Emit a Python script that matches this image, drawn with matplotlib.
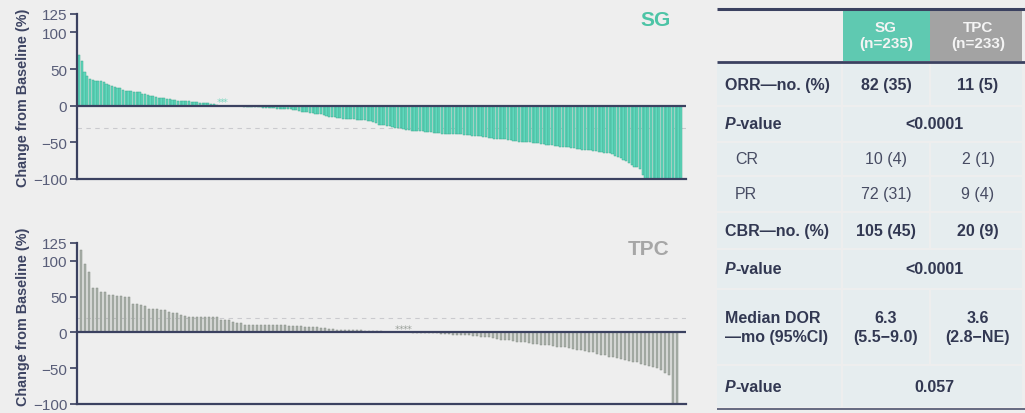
import matplotlib
matplotlib.use("Agg")
import matplotlib.pyplot as plt
from matplotlib.patches import Rectangle
import numpy as np

plt.rcParams['font.family'] = ['Liberation Sans', 'DejaVu Sans']

# ---- waterfall data: best % change from baseline in target lesions, sorted ----
sg_positive = [69, 61, 46, 40, 37, 35, 34, 34, 33, 32, 29, 28, 27, 25, 24,
               24, 21, 20, 20, 20, 19, 19, 19, 16, 16, 15, 13, 13, 12, 11,
               10, 10, 9, 9, 8, 8, 7, 6, 6, 6, 6, 5, 5, 5, 4, 4, 3, 3, 2, 2, 1]
sg_zero = [0, 0, 0]
sg_negative = [-1, -1, -1, -1, -1, -1, -2, -2, -2, -2,
               -2, -2, -2, -3, -3, -3, -3, -3, -4, -4,
               -4, -4, -5, -5, -6, -6, -7, -8, -8, -9,
               -10, -10, -11, -12, -12, -13, -14, -15, -16, -16,
               -17, -17, -18, -18, -18, -18, -18, -19, -19, -20,
               -20, -21, -21, -22, -24, -26, -27, -27, -28, -28,
               -29, -30, -30, -31, -32, -33, -33, -34, -34, -35,
               -35, -35, -36, -36, -36, -37, -37, -37, -38, -38,
               -38, -38, -39, -39, -39, -39, -40, -40, -40, -41,
               -41, -42, -42, -43, -43, -44, -44, -45, -45, -46,
               -46, -46, -47, -47, -48, -48, -49, -49, -50, -50,
               -50, -51, -51, -51, -52, -52, -53, -54, -54, -55,
               -55, -56, -56, -57, -57, -58, -58, -59, -59, -60,
               -60, -61, -61, -62, -62, -63, -63, -64, -64, -65,
               -66, -68, -70, -72, -74, -76, -78, -81, -83, -84,
               -86, -95,
               -100, -100, -100, -100, -100, -100, -100,
               -100, -100, -100, -100, -100, -100, -100]

tpc_positive = [115, 95, 85, 62, 62, 57, 56, 53, 52, 51,
                51, 50, 49, 40, 40, 39, 37, 33, 33, 33,
                32, 32, 29, 27, 27, 24, 23, 22, 21, 21,
                21, 21, 21, 21, 21, 17, 17, 17, 14, 13,
                13, 11, 11, 11, 11, 11, 10, 10, 10, 10,
                10, 10, 9, 9, 9, 9, 8, 8, 8, 8,
                6, 6, 5, 5, 4, 4, 4, 4, 3, 3,
                3, 2, 2, 2, 2, 2, 1, 1, 1]
tpc_zero = [0, 0, 0, 0]
tpc_negative = [-1, -1, -1, -1, -1, -1, -1, -2, -2, -2,
                -3, -3, -3, -4, -4, -5, -5, -6, -6, -7,
                -8, -9, -10, -11, -11, -12, -13, -14, -14, -15,
                -16, -16, -17, -18, -18, -19, -20, -21, -21, -22,
                -23, -24, -25, -26, -27, -28, -30, -31, -32, -34,
                -35, -36, -37, -38, -40, -41, -42, -44, -45, -47,
                -48, -50, -53, -56, -60,
                -100, -100]

sg_values = sg_positive + sg_zero + sg_negative
tpc_values = tpc_positive + tpc_zero + tpc_negative

yticks = [125, 100, 50, 0, -50, -100]
ytick_labels = ["125", "100", "50", "0", "\u221250", "\u2212100"]
ylabel = "Change from Baseline (%)"

# ---- response summary table ----
header_sg = "SG\n(n=235)"
header_tpc = "TPC\n(n=233)"
row_labels = ["ORR\u2014no. (%)", "P-value", "CR", "PR", "CBR\u2014no. (%)",
              "P-value", "Median DOR\n\u2014mo (95%CI)", "P-value"]
sg_col = ["82 (35)", None, "10 (4)", "72 (31)", "105 (45)", None,
          "6.3\n(5.5\u22129.0)", None]
tpc_col = ["11 (5)", None, "2 (1)", "9 (4)", "20 (9)", None,
           "3.6\n(2.8\u2212NE)", None]
p_col = [None, "<0.0001", None, None, None, "<0.0001", None, "0.057"]
row_bold = [True, True, False, False, True, True, True, True]

# ---- styling ----
BG = "#eeeeee"
NAVY = "#3b4160"
TICK_C = "#585d78"
TEAL = "#60d8bd"
TEAL_EDGE = "#3fa98f"
TEAL_TXT = "#4cc4a6"
GRAY = "#aab1aa"
GRAY_EDGE = "#868d86"
GRAY_TXT = "#a6a6a6"
CELL = "#e6edef"

W, H = 1025, 414
fig = plt.figure(figsize=(W / 100, H / 100), dpi=100, facecolor=BG)


def waterfall(rect, values, face, edge, width, xlim, ref_line, n_mark_start,
              n_mark, mark_color, title, title_color, title_xy, label_y):
    ax = fig.add_axes(rect)
    ax.set_facecolor(BG)
    x = np.arange(len(values))
    ax.bar(x, values, width=width, color=face, edgecolor=edge, linewidth=0.35,
           zorder=2)
    ax.axhline(ref_line, color="#cacace", lw=0.8, ls=(0, (4, 4)), zorder=1)
    ax.axhline(0, color=NAVY, lw=1.6, zorder=3)
    mx = np.arange(n_mark_start, n_mark_start + n_mark)
    ax.scatter(mx, np.full(n_mark, 7.5), marker="$*$", s=10, lw=0,
               color=mark_color, zorder=3)
    ax.set_xlim(*xlim)
    ax.set_ylim(-100, 125)
    ax.set_yticks(yticks)
    ax.set_yticklabels(ytick_labels)
    ax.set_xticks([])
    for s in ("top", "right"):
        ax.spines[s].set_visible(False)
    for s in ("left", "bottom"):
        ax.spines[s].set_color(NAVY)
        ax.spines[s].set_linewidth(1.6)
    ax.tick_params(axis="y", colors=NAVY, labelcolor=TICK_C, labelsize=11,
                   length=5, width=1.2, pad=2)
    ax.set_ylabel(ylabel, fontsize=10.4, fontweight="bold", color="#3d4462")
    ax.yaxis.set_label_coords(-0.077, label_y)
    fig.text(title_xy[0] / W, 1 - title_xy[1] / H, title, color=title_color,
             fontsize=15, fontweight="bold", ha="right", va="center")
    return ax


waterfall([77 / W, 1 - 180 / H, 609 / W, 165 / H], sg_values, TEAL, TEAL_EDGE,
          0.82, (-0.73, 220.7), -30, len(sg_positive), len(sg_zero), "#7fd8c2",
          "SG", TEAL_TXT, (671, 21), 0.5)
waterfall([77 / W, 1 - 405 / H, 609 / W, 161 / H], tpc_values, GRAY,
          GRAY_EDGE, 0.62, (-1.0, 151.25), 20, len(tpc_positive),
          len(tpc_zero), "#9aa09a", "TPC", GRAY_TXT, (670, 250), 0.545)

# ---- table, laid out in figure pixel coordinates ----
tax = fig.add_axes([0, 0, 1, 1])
tax.set_xlim(0, W)
tax.set_ylim(H, 0)
tax.axis("off")

x_left, x_sg0, x_sg1, x_tpc1, x_right = 717, 843, 930, 1022, 1025
c_sg, c_tpc, c_p = 886, 978, 934
row_edges = [(64, 107), (107, 143), (143, 177), (177, 213), (213, 250),
             (250, 290), (290, 366), (366, 409)]
FS = 11.5

# header cells
tax.add_patch(Rectangle((x_sg0, 10), x_sg1 - x_sg0, 52, color="#5fc9b1", lw=0))
tax.add_patch(Rectangle((x_sg1, 10), x_tpc1 - x_sg1, 52, color="#a3a3a3", lw=0))
tax.text(c_sg, 36, header_sg, ha="center", va="center", color="#f4f4f4",
         fontsize=11, fontweight="bold", linespacing=1.15)
tax.text(c_tpc, 36, header_tpc, ha="center", va="center", color="#f4f4f4",
         fontsize=11, fontweight="bold", linespacing=1.15)

gap = 1.0
for i, (y0, y1) in enumerate(row_edges):
    # background cells
    tax.add_patch(Rectangle((x_left, y0 + gap), x_sg0 - x_left - 2 * gap,
                            y1 - y0 - 2 * gap, color=CELL, lw=0))
    if p_col[i] is None:
        tax.add_patch(Rectangle((x_sg0, y0 + gap), x_sg1 - x_sg0 - gap,
                                y1 - y0 - 2 * gap, color=CELL, lw=0))
        tax.add_patch(Rectangle((x_sg1 + gap, y0 + gap), x_tpc1 - x_sg1 - gap,
                                y1 - y0 - 2 * gap, color=CELL, lw=0))
    else:
        tax.add_patch(Rectangle((x_sg0, y0 + gap), x_tpc1 - x_sg0,
                                y1 - y0 - 2 * gap, color=CELL, lw=0))

    yc = (y0 + y1) / 2
    weight = "bold" if row_bold[i] else "normal"
    tcol = "#323852" if row_bold[i] else "#474c63"
    label = row_labels[i]
    if label.startswith("P-"):
        t = tax.text(725, yc, "P", ha="left", va="center", fontsize=FS,
                     fontweight="bold", fontstyle="italic", color=tcol)
        tax.annotate(label[1:], xy=(1, 0), xycoords=t, ha="left",
                     va="bottom", fontsize=FS, fontweight="bold", color=tcol)
    else:
        lx = 725 if row_bold[i] else 735
        tax.text(lx, yc, label, ha="left", va="center", fontsize=FS,
                 fontweight=weight, color=tcol, linespacing=1.3)
    if sg_col[i] is not None:
        tax.text(c_sg, yc, sg_col[i], ha="center", va="center", fontsize=FS,
                 fontweight=weight, color=tcol, linespacing=1.3)
        tax.text(c_tpc, yc, tpc_col[i], ha="center", va="center", fontsize=FS,
                 fontweight=weight, color=tcol, linespacing=1.3)
    if p_col[i] is not None:
        tax.text(c_p, yc, p_col[i], ha="center", va="center", fontsize=FS,
                 fontweight="bold", color=tcol)

tax.plot([x_left, x_right], [10, 10], color=NAVY, lw=2.2, solid_capstyle="butt")
tax.plot([x_left, x_right], [62.5, 62.5], color=NAVY, lw=2.0,
         solid_capstyle="butt")
tax.plot([x_left, x_right], [410, 410], color="#5a5f78", lw=1.3,
         solid_capstyle="butt")

fig.savefig("out.png", dpi=100, facecolor=BG)
